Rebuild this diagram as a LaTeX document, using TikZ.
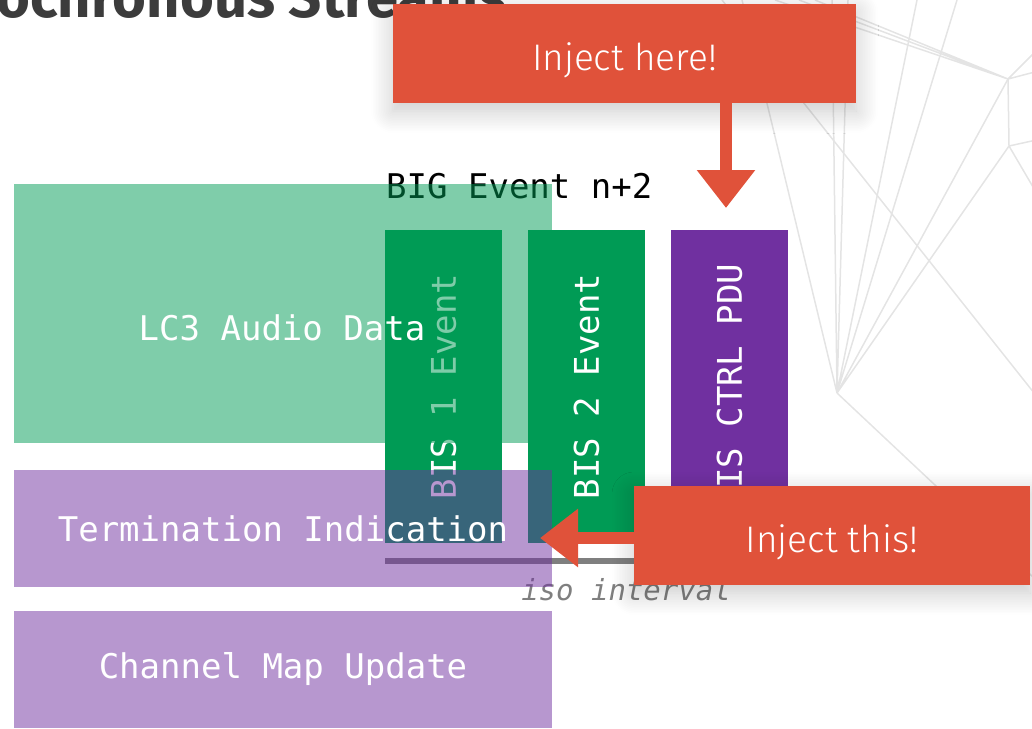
\documentclass[tikz,border=0pt]{standalone}
\usepackage{fontspec}
\setmainfont{Fira Sans}
\setmonofont{DejaVu Sans Mono}
\newfontfamily\calloutfont{Fira Sans Light}
\usetikzlibrary{arrows.meta,shadows.blur}

\definecolor{injred}{HTML}{E0523A}
\definecolor{bisgreen}{HTML}{009B55}
\definecolor{ctrlpurple}{HTML}{7030A0}
\definecolor{netgray}{HTML}{E4E4E4}
\definecolor{titlegray}{HTML}{3C3C3C}
\definecolor{isogray}{HTML}{7F7F7F}

\newcommand{\monotext}{\ttfamily\fontsize{34}{40}\selectfont}

\tikzset{
  net/.style={draw=netgray, line width=1.5pt},
  bar/.style={anchor=north west, inner sep=0pt, outer sep=0pt,
    minimum width=117pt, minimum height=313pt, text=white, font=\monotext},
  tint/.style={anchor=north west, inner sep=0pt, outer sep=0pt,
    minimum width=538pt, fill opacity=0.5, text opacity=1, text=white, font=\monotext},
  inject/.style={anchor=north west, inner sep=0pt, outer sep=0pt, fill=injred,
    text=white, font=\calloutfont\fontsize{37}{42}\selectfont,
    text height=34pt, text depth=0pt,
    blur shadow={shadow xshift=0pt, shadow yshift=-8pt,
      shadow blur radius=22pt, shadow blur steps=14, shadow opacity=22}},
  pointer/.style={draw=injred, line width=12pt,
    -{Triangle[width=56pt,length=38pt]}},
}

\begin{document}
\begin{tikzpicture}[x=1pt,y=-1pt]
\useasboundingbox (0,0) rectangle (1032,728);
\clip (0,0) rectangle (1032,728);

% decorative wire mesh on the right
\coordinate (nA) at (837,393);
\coordinate (nB) at (1008,79);
\coordinate (nC) at (1009,146);
\draw[net] (815,0) -- (nB) (799,0) -- (nB) (775,0) -- (nB);
\draw[net] (nB) -- (1050,37) (nB) -- (1050,68) (nB) -- (nC);
\draw[net] (nC) -- (1050,137) (nC) -- (1050,216);
\draw[net] (nB) -- (nA) (nC) -- (nA);
\draw[net] (917,0) -- (nA) (957,0) -- (nA) (832,0) -- (nA)
           (848,0) -- (nA) (742,0) -- (nA);
\draw[net] (722,0) -- (1100,476);
\draw[net] (nA) -- (1100,640);

% heading
\node[anchor=base west, inner sep=0pt, text=titlegray,
      font=\fontsize{58}{64}\selectfont\bfseries] (title) at (-4,17)
      {ochronous Streams};

% event label
\node[anchor=base west, inner sep=0pt, font=\monotext] (event) at (386,198)
      {BIG Event n+2};

% sub-events of the BIG event
\node[bar, fill=bisgreen]   (bis1) at (385,230) {\rotatebox{90}{BIS 1 Event}};
\node[bar, fill=bisgreen]   (bis2) at (528,230) {\rotatebox{90}{BIS 2 Event}};
\node[bar, fill=ctrlpurple] (ctrl) at (671,230) {\rotatebox{90}{BIS CTRL PDU}};

% iso interval
\draw[draw=isogray, line width=6pt] (bis1.south west |- 0,561) -- (ctrl.south east |- 0,561);
\node[anchor=base, inner sep=0pt, text=isogray,
      font=\ttfamily\itshape\fontsize{29}{34}\selectfont] (iso) at (626,600)
      {iso interval};

% payload categories (translucent)
\node[tint, fill=bisgreen, minimum height=259pt] (lc3) at (14,184) {};
\node[text=white, font=\monotext, inner sep=0pt] (lc3text) at (282,328) {LC3 Audio Data};
\node[tint, fill=ctrlpurple, minimum height=117pt] (term) at (14,470) {Termination Indication};
\node[tint, fill=ctrlpurple, minimum height=117pt] (chmap) at (14,611) {Channel Map Update};

% injection callouts
\node[inject, minimum width=463pt, minimum height=99pt] (inj1) at (393,4) {Inject here!};
\node[inject, minimum width=396pt, minimum height=99pt] (inj2) at (634,486) {Inject this!};

\coordinate (tip1) at (726,208);
\coordinate (tip2) at (540,538);
\draw[pointer] (inj1.south -| tip1) -- (tip1);
\draw[pointer] (inj2.west |- tip2) -- (tip2);
\end{tikzpicture}
\end{document}
